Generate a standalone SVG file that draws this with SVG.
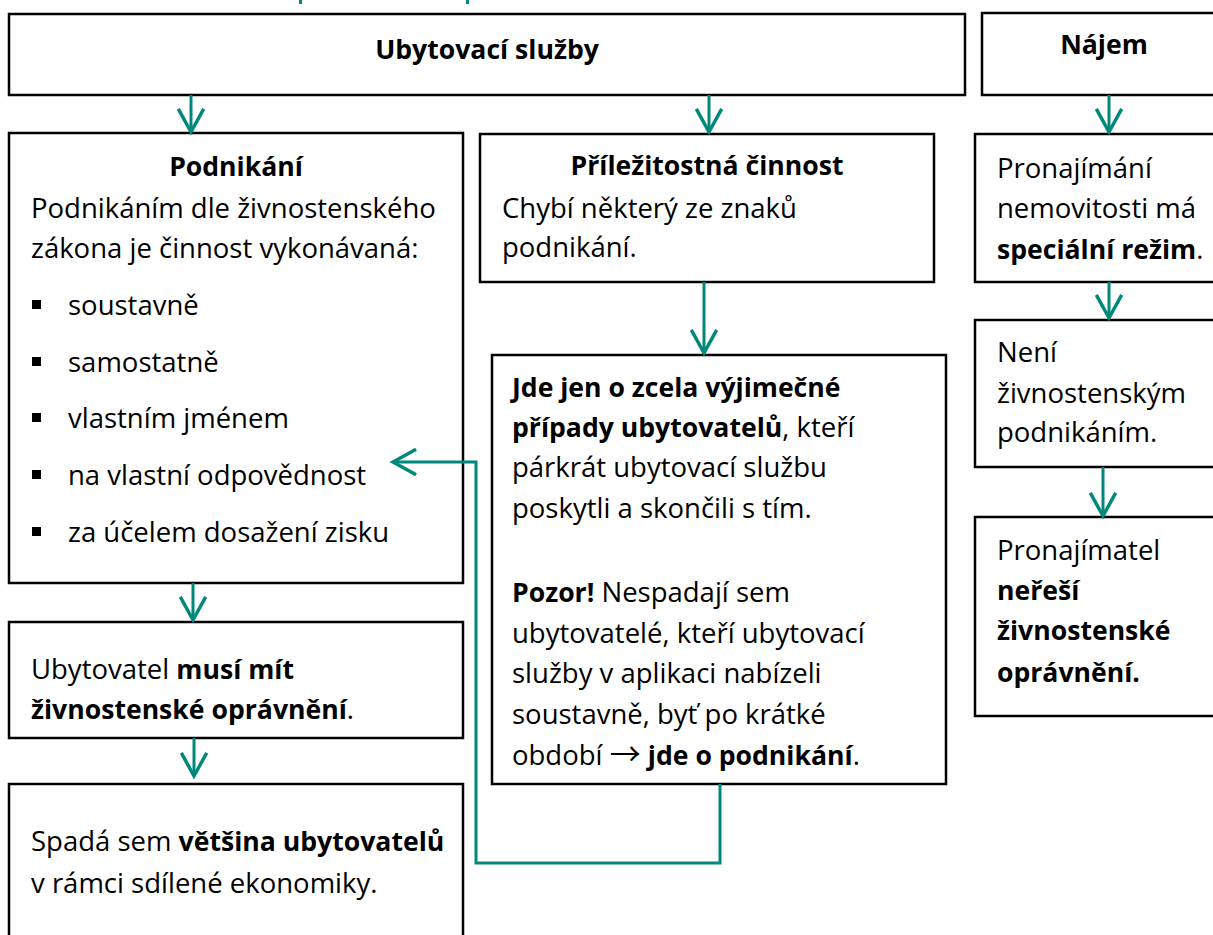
<svg xmlns="http://www.w3.org/2000/svg" width="1213" height="935" viewBox="0 0 1213 935">
<style>
.box{fill:#fff;stroke:#000;stroke-width:2.5}
.t{font-family:"Open Sans","Liberation Sans",sans-serif;font-size:27.5px;fill:#000}
.b{font-weight:700;font-size:26.6px}
.h{font-family:"Open Sans","Liberation Sans",sans-serif;font-size:26.6px;font-weight:700;fill:#000;text-anchor:middle}
.ar{font-family:"Noto Sans CJK SC","DejaVu Sans",sans-serif;font-size:31px;font-weight:400}
.c{fill:none;stroke:#00897B;stroke-width:3}
.bul{fill:#000}
</style>
<defs>
<marker id="ah" markerUnits="userSpaceOnUse" markerWidth="30" markerHeight="30" viewBox="-22 -13 26 26" refX="0" refY="0" orient="auto" overflow="visible">
<path d="M-20,-11 L0,0 L-20,11" fill="none" stroke="#00897B" stroke-width="3"/>
</marker>
</defs>
<rect x="299" y="0" width="3" height="4" fill="#00897B"/>
<rect x="466" y="0" width="3" height="4" fill="#00897B"/>
<g id="n-ubytovaci">
<rect class="box" x="9" y="14" width="956" height="81"/>
<text class="h" x="487" y="59">Ubytovací služby</text>
</g>
<g id="n-najem">
<rect class="box" x="982" y="13" width="240" height="82"/>
<text class="h" x="1104" y="54">Nájem</text>
</g>
<g id="n-podnikani">
<rect class="box" x="9" y="133" width="454" height="450"/>
<text class="t b" x="236" y="176" text-anchor="middle">Podnikání</text>
<text class="t" x="31" y="218">Podnikáním dle živnostenského</text>
<text class="t" x="31" y="258">zákona je činnost vykonávaná:</text>
<rect class="bul" x="32" y="300" width="9" height="9"/>
<rect class="bul" x="32" y="357" width="9" height="9"/>
<rect class="bul" x="32" y="413" width="9" height="9"/>
<rect class="bul" x="32" y="470" width="9" height="9"/>
<rect class="bul" x="32" y="527" width="9" height="9"/>
<text class="t" x="68" y="315">soustavně</text>
<text class="t" x="68" y="372">samostatně</text>
<text class="t" x="68" y="428">vlastním jménem</text>
<text class="t" x="68" y="485">na vlastní odpovědnost</text>
<text class="t" x="68" y="542">za účelem dosažení zisku</text>
</g>
<g id="n-opravneni">
<rect class="box" x="9" y="622" width="454" height="116"/>
<text class="t" x="31" y="679">Ubytovatel <tspan class="b">musí mít</tspan></text>
<text class="t" x="31" y="719"><tspan class="b">živnostenské oprávnění</tspan>.</text>
</g>
<g id="n-vetsina">
<rect class="box" x="9" y="784" width="454" height="160"/>
<text class="t" x="31" y="851">Spadá sem <tspan class="b">většina ubytovatelů</tspan></text>
<text class="t" x="31" y="893">v rámci sdílené ekonomiky.</text>
</g>
<g id="n-prilezitostna">
<rect class="box" x="480" y="134" width="454" height="148"/>
<text class="t b" x="707" y="175" text-anchor="middle">Příležitostná činnost</text>
<text class="t" x="502" y="218">Chybí některý ze znaků</text>
<text class="t" x="502" y="257">podnikání.</text>
</g>
<g id="n-vyjimecne">
<rect class="box" x="492" y="355" width="454" height="429"/>
<text class="t" x="512" y="397"><tspan class="b">Jde jen o zcela výjimečné</tspan></text>
<text class="t" x="512" y="437"><tspan class="b">případy ubytovatelů</tspan>, kteří</text>
<text class="t" x="512" y="477">párkrát ubytovací službu</text>
<text class="t" x="512" y="518">poskytli a skončili s tím.</text>
<text class="t" x="512" y="602"><tspan class="b">Pozor!</tspan> Nespadají sem</text>
<text class="t" x="512" y="643">ubytovatelé, kteří ubytovací</text>
<text class="t" x="512" y="683">služby v aplikaci nabízeli</text>
<text class="t" x="512" y="724">soustavně, byť po krátké</text>
<text class="t" x="512" y="765">období <tspan class="ar">→</tspan> <tspan class="b">jde o podnikání</tspan>.</text>
</g>
<g id="n-pronajimani">
<rect class="box" x="975" y="134" width="250" height="148"/>
<text class="t" x="997" y="178">Pronajímání</text>
<text class="t" x="997" y="218">nemovitosti má</text>
<text class="t" x="997" y="259"><tspan class="b">speciální režim</tspan>.</text>
</g>
<g id="n-neni">
<rect class="box" x="975" y="320" width="250" height="147"/>
<text class="t" x="997" y="362">Není</text>
<text class="t" x="997" y="403">živnostenským</text>
<text class="t" x="997" y="442">podnikáním.</text>
</g>
<g id="n-neresi">
<rect class="box" x="975" y="517" width="250" height="199"/>
<text class="t" x="997" y="560">Pronajímatel</text>
<text class="t b" x="997" y="600">neřeší</text>
<text class="t b" x="997" y="640">živnostenské</text>
<text class="t b" x="997" y="682">oprávnění.</text>
</g>
<g id="connectors">
<path class="c" d="M191,95 V132" marker-end="url(#ah)"/>
<path class="c" d="M709,95 V132" marker-end="url(#ah)"/>
<path class="c" d="M1109,95 V132" marker-end="url(#ah)"/>
<path class="c" d="M704,282 V353" marker-end="url(#ah)"/>
<path class="c" d="M193,583 V620" marker-end="url(#ah)"/>
<path class="c" d="M194,738 V776" marker-end="url(#ah)"/>
<path class="c" d="M1109,282 V318" marker-end="url(#ah)"/>
<path class="c" d="M1103,467 V516" marker-end="url(#ah)"/>
<path class="c" d="M720,784 V863 H476 V462 H393" marker-end="url(#ah)"/>
</g>
</svg>
